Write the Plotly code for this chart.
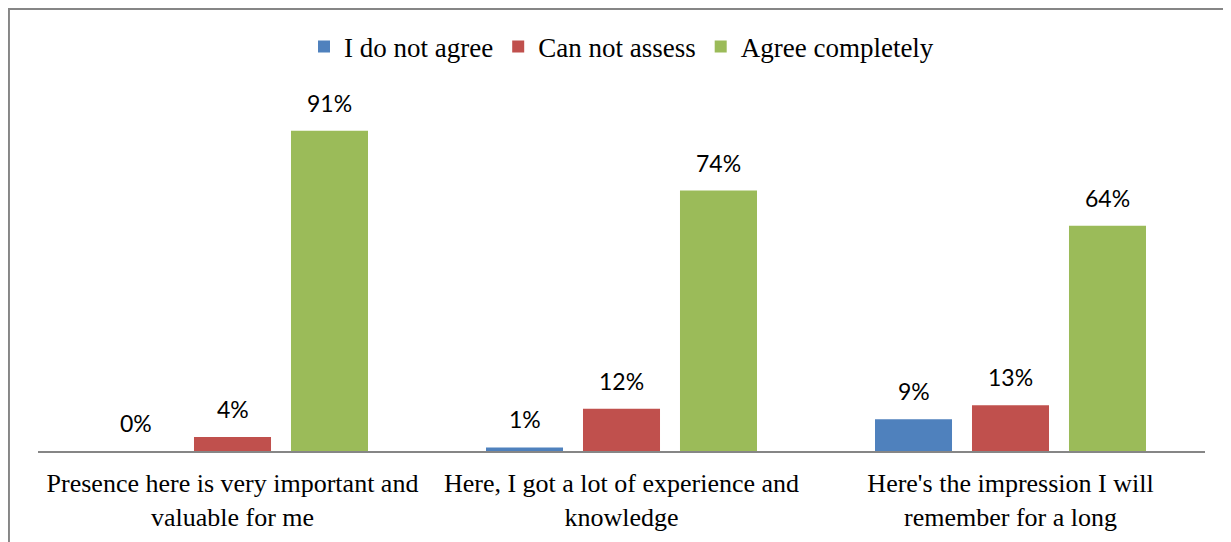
import plotly.graph_objects as go

categories = ["Presence here is very important and<br>valuable for me",
              "Here, I got a lot of experience and<br>knowledge",
              "Here's the impression I will<br>remember for a long"]
series_names = ["I do not agree", "Can not assess", "Agree completely"]
disagree = [0, 1, 9]
cannot = [4, 12, 13]
agree = [91, 74, 64]
colors = ["#4F81BD", "#C0504D", "#9BBB59"]

fig = go.Figure()
values = [disagree, cannot, agree]
for name, vals, col in zip(series_names, values, colors):
    fig.add_trace(go.Bar(
        name=name, x=categories, y=[v / 100 for v in vals],
        marker=dict(color=col, line=dict(width=0)),
    ))

# data labels via annotations anchored to the axes
slot_px = 97
for i, vals in enumerate(values):
    for c, v in zip(categories, vals):
        fig.add_annotation(
            x=c, y=v / 100, xref="x", yref="y", text=f"{v}%", showarrow=False,
            xshift=(i - 1) * slot_px, yshift=28, yanchor="middle",
            font=dict(family="Lato", size=23, color="#000000"),
        )

# outer frame
fig.add_shape(type="rect", xref="paper", yref="paper",
              x0=-0.0249, x1=1.2, y0=-0.5, y1=1.2557,
              line=dict(color="#868686", width=2), fillcolor="rgba(0,0,0,0)", layer="below")

fig.update_layout(
    width=1231, height=542,
    margin=dict(l=30, r=34, t=91, b=99, autoexpand=False),
    paper_bgcolor="white", plot_bgcolor="white",
    barmode="group", bargap=0.252, bargroupgap=0.206,
    showlegend=True,
    legend=dict(orientation="h", x=0.5, xanchor="center", y=1.148, yanchor="middle",
                font=dict(family="Liberation Serif", size=27, color="#000000"),
                bgcolor="rgba(0,0,0,0)"),
    xaxis=dict(showline=True, linecolor="#868686", linewidth=2, ticks="",
               tickfont=dict(family="Liberation Serif", size=26, color="#000000"),
               ticklabelstandoff=8,
               showgrid=False, zeroline=False),
    yaxis=dict(range=[0, 1], visible=False, showgrid=False, zeroline=False),
)

fig.write_html("out.html")
